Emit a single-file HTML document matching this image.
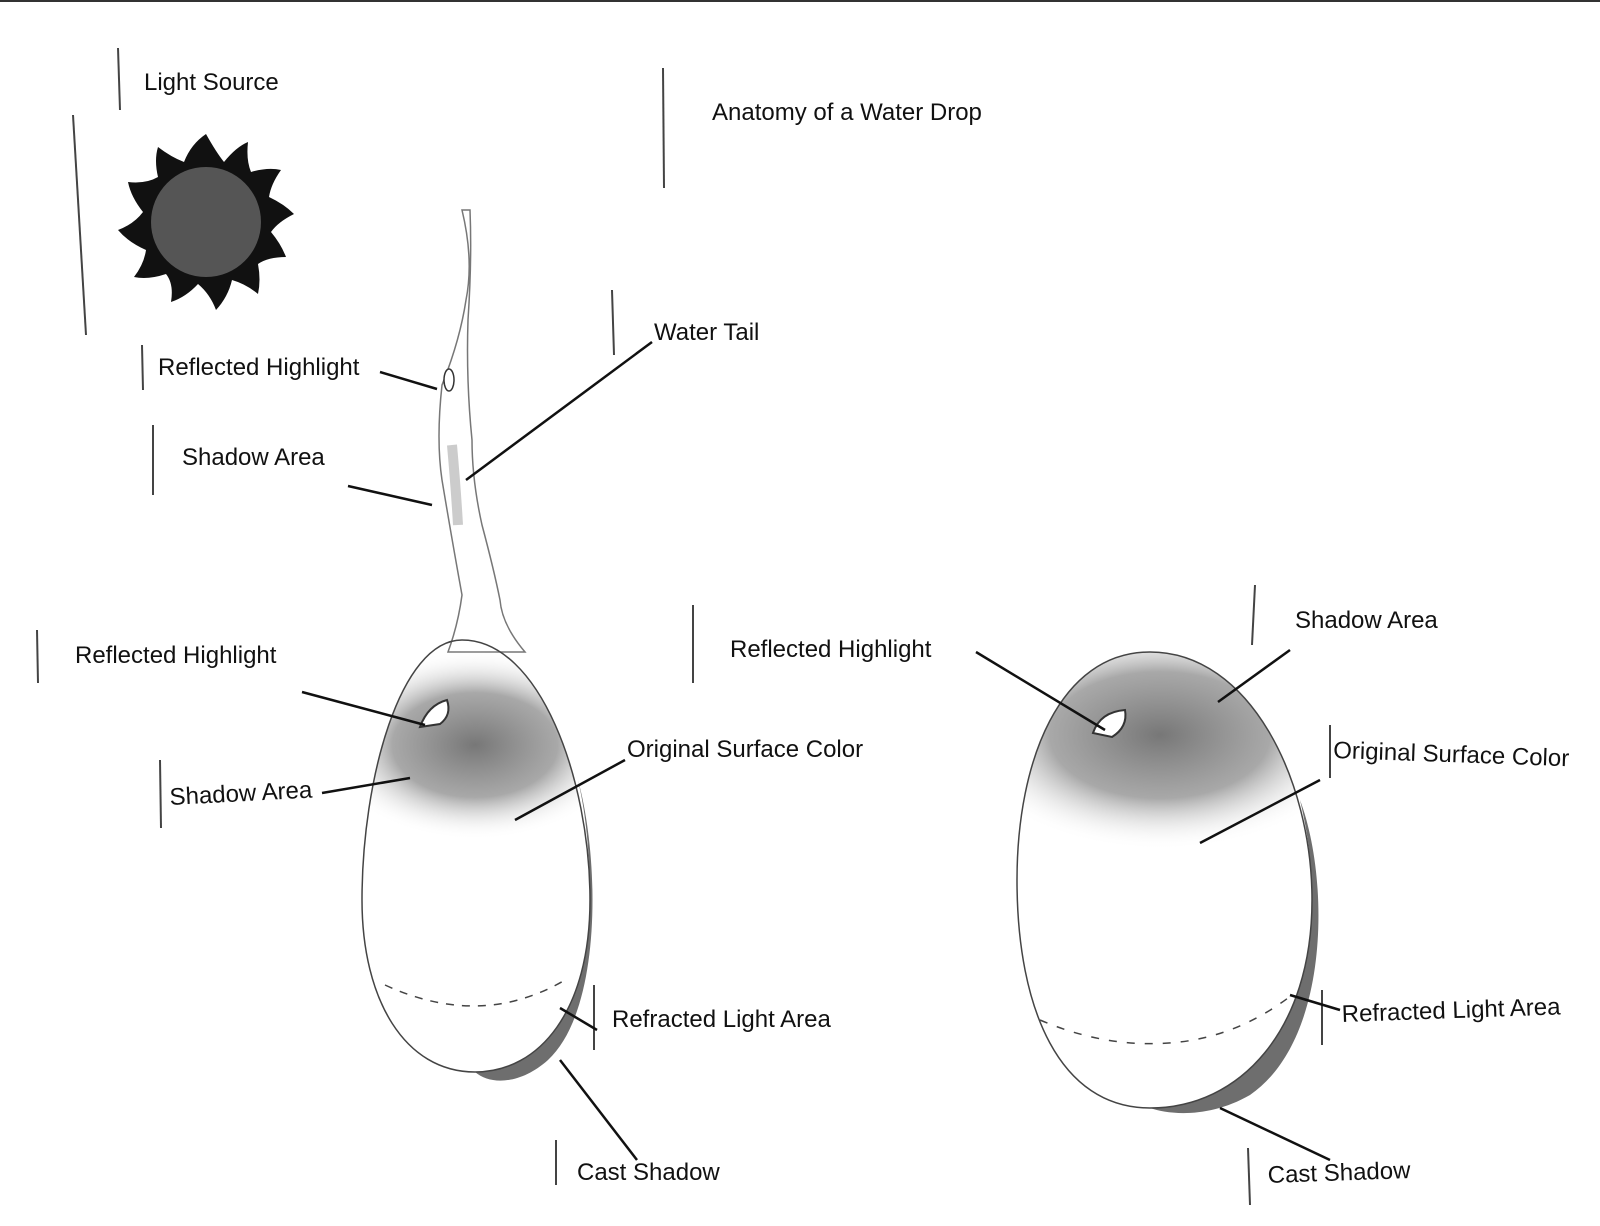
<!DOCTYPE html>
<html><head><meta charset="utf-8"><style>
html,body{margin:0;padding:0;background:#fff;}
svg{display:block;}
text{font-family:"Liberation Sans",sans-serif;font-size:24px;fill:#111;}
</style></head><body>
<svg width="1600" height="1226" viewBox="0 0 1600 1226">
<defs>
<radialGradient id="sh" cx="0.5" cy="0.5" r="0.5">
<stop offset="0" stop-color="#777"/><stop offset="0.55" stop-color="#999" stop-opacity="0.85"/><stop offset="1" stop-color="#fff" stop-opacity="0"/>
</radialGradient>
<clipPath id="cL"><path d="M462,640 C540,640 590,780 590,900 C590,1010 540,1072 475,1072 C405,1072 362,1000 362,900 C362,780 400,640 462,640Z"/></clipPath>
<clipPath id="cR"><path d="M1150,652 C1250,652 1312,780 1312,900 C1312,1030 1240,1108 1150,1108 C1060,1108 1017,1010 1017,880 C1017,760 1060,652 1150,652Z"/></clipPath>
</defs>
<rect width="1600" height="1226" fill="#fff"/>
<line x1="0" x2="1600" y1="1" y2="1" stroke="#333" stroke-width="2"/>
<g stroke="#444" stroke-width="2">
<line x1="118" y1="48" x2="120" y2="110"/>
<line x1="73" y1="115" x2="86" y2="335"/>
<line x1="663" y1="68" x2="664" y2="188"/>
<line x1="612" y1="290" x2="614" y2="355"/>
<line x1="142" y1="345" x2="143" y2="390"/>
<line x1="153" y1="425" x2="153" y2="495"/>
<line x1="37" y1="630" x2="38" y2="683"/>
<line x1="160" y1="760" x2="161" y2="828"/>
<line x1="693" y1="605" x2="693" y2="683"/>
<line x1="1255" y1="585" x2="1252" y2="645"/>
<line x1="1330" y1="725" x2="1330" y2="778"/>
<line x1="594" y1="985" x2="594" y2="1050"/>
<line x1="1322" y1="990" x2="1322" y2="1045"/>
<line x1="556" y1="1140" x2="556" y2="1185"/>
<line x1="1248" y1="1148" x2="1250" y2="1205"/>
</g>
<g transform="translate(206,222)">
<path d="M0,-88 Q10,-70 18,-60 Q30,-75 42,-80 Q40,-62 45,-50 Q62,-55 75,-52 Q65,-38 63,-25 Q78,-18 88,-8 Q72,0 65,10 Q75,22 80,35 Q62,35 52,42 Q55,58 52,72 Q40,62 26,58 Q22,75 10,88 Q4,72 -8,62 Q-20,75 -35,80 Q-32,62 -40,52 Q-58,58 -72,55 Q-62,42 -60,28 Q-78,20 -88,8 Q-72,2 -63,-10 Q-75,-25 -78,-40 Q-60,-38 -48,-45 Q-52,-62 -48,-75 Q-35,-65 -22,-60 Q-15,-78 0,-88Z" fill="#111"/>
<circle r="55" fill="#555"/>
</g>
<path d="M462,210 Q474,260 466,300 Q460,340 442,385 Q436,440 442,480 Q452,540 462,595 Q458,625 448,652 L525,652 Q502,625 500,600 Q494,570 482,525 Q472,480 472,440 Q466,380 468,320 Q472,260 470,210Z" fill="#fff" stroke="#777" stroke-width="1.5"/>
<path d="M452,445 Q456,490 458,525" stroke="#aaa" stroke-width="10" fill="none" opacity="0.6"/>
<ellipse cx="449" cy="380" rx="5" ry="11" fill="#fff" stroke="#333" stroke-width="1.5"/>
<g clip-path="url(#cL)">
<ellipse cx="475" cy="745" rx="150" ry="95" fill="url(#sh)"/>
</g>
<path d="M578,780 C600,860 602,1010 548,1060 C520,1085 490,1085 475,1072 C540,1072 590,1010 590,900 C590,850 585,810 578,780Z" fill="#555" opacity="0.85"/>
<path d="M462,640 C540,640 590,780 590,900 C590,1010 540,1072 475,1072 C405,1072 362,1000 362,900 C362,780 400,640 462,640Z" fill="none" stroke="#444" stroke-width="1.5"/>
<path d="M385,985 Q450,1015 510,1002 Q540,995 565,980" stroke="#444" stroke-dasharray="8,8" fill="none" stroke-width="1.5"/>
<path d="M420,727 Q428,705 447,700 Q452,715 440,724 Z" fill="#fff" stroke="#333" stroke-width="2"/>
<g clip-path="url(#cR)">
<ellipse cx="1160" cy="735" rx="200" ry="115" fill="url(#sh)"/>
</g>
<path d="M1300,800 C1330,880 1330,1040 1250,1095 C1210,1118 1170,1115 1150,1108 C1240,1108 1312,1030 1312,900 C1312,860 1307,830 1300,800Z" fill="#555" opacity="0.85"/>
<path d="M1150,652 C1250,652 1312,780 1312,900 C1312,1030 1240,1108 1150,1108 C1060,1108 1017,1010 1017,880 C1017,760 1060,652 1150,652Z" fill="none" stroke="#444" stroke-width="1.5"/>
<path d="M1040,1020 Q1110,1050 1180,1042 Q1240,1035 1292,995" stroke="#444" stroke-dasharray="8,10" fill="none" stroke-width="1.5"/>
<path d="M1093,733 Q1100,712 1125,710 Q1128,727 1112,737 Z" fill="#fff" stroke="#333" stroke-width="2"/>
<g stroke="#111" stroke-width="2.5" fill="none">
<line x1="380" y1="372" x2="437" y2="389"/>
<line x1="348" y1="486" x2="432" y2="505"/>
<line x1="652" y1="342" x2="466" y2="480"/>
<line x1="302" y1="692" x2="425" y2="725"/>
<line x1="322" y1="793" x2="410" y2="778"/>
<line x1="625" y1="760" x2="515" y2="820"/>
<line x1="597" y1="1030" x2="560" y2="1008"/>
<line x1="560" y1="1060" x2="637" y2="1160"/>
<line x1="976" y1="652" x2="1105" y2="730"/>
<line x1="1290" y1="650" x2="1218" y2="702"/>
<line x1="1320" y1="780" x2="1200" y2="843"/>
<line x1="1340" y1="1010" x2="1290" y2="995"/>
<line x1="1220" y1="1108" x2="1330" y2="1160"/>
</g>
<text x="144" y="90">Light Source</text>
<text x="712" y="120">Anatomy of a Water Drop</text>
<text x="654" y="340">Water Tail</text>
<text x="158" y="375">Reflected Highlight</text>
<text x="182" y="465">Shadow Area</text>
<text x="75" y="663">Reflected Highlight</text>
<text x="170" y="805" transform="rotate(-3 170 805)">Shadow Area</text>
<text x="730" y="657">Reflected Highlight</text>
<text x="627" y="757">Original Surface Color</text>
<text x="1295" y="628">Shadow Area</text>
<text x="1333" y="758" transform="rotate(2 1333 758)">Original Surface Color</text>
<text x="612" y="1027">Refracted Light Area</text>
<text x="1342" y="1022" transform="rotate(-2 1342 1022)">Refracted Light Area</text>
<text x="577" y="1180">Cast Shadow</text>
<text x="1268" y="1183" transform="rotate(-2 1268 1183)">Cast Shadow</text>
</svg>
</body></html>
